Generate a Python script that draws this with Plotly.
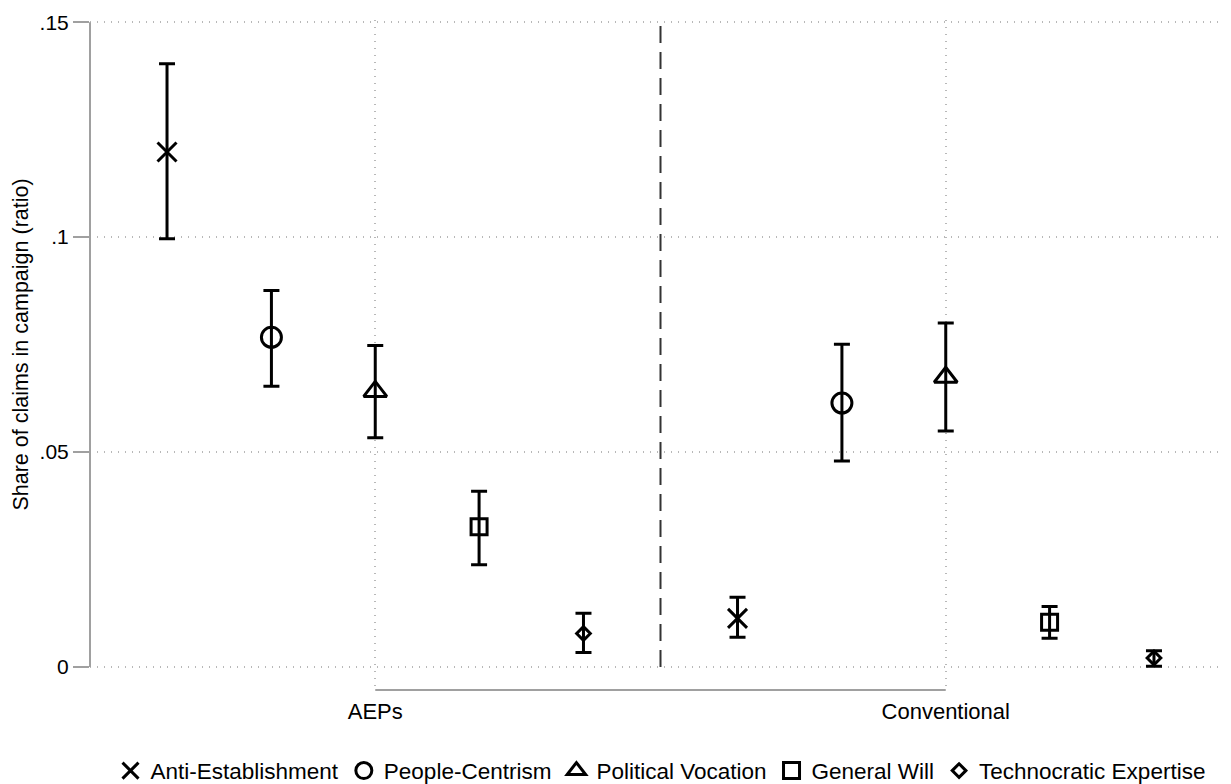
import plotly.graph_objects as go

categories = ["AEPs", "Conventional"]
cat_pos = [1, 2]
series = ["Anti-Establishment", "People-Centrism", "Political Vocation",
          "General Will", "Technocratic Expertise"]
offsets = [-0.365, -0.182, 0.0, 0.182, 0.365]
symbols = ["x-thin-open", "circle-open", "triangle-up-open", "square-open", "diamond-open"]
msizes = [19, 20, 20, 16, 10.5]

est = {
    "Anti-Establishment": [0.1198, 0.0113],
    "People-Centrism": [0.0767, 0.0614],
    "Political Vocation": [0.0641, 0.0674],
    "General Will": [0.0326, 0.0104],
    "Technocratic Expertise": [0.0078, 0.0021],
}
ci_low = {
    "Anti-Establishment": [0.0996, 0.0069],
    "People-Centrism": [0.0653, 0.0479],
    "Political Vocation": [0.0533, 0.0549],
    "General Will": [0.0238, 0.0067],
    "Technocratic Expertise": [0.0034, 0.0002],
}
ci_high = {
    "Anti-Establishment": [0.1403, 0.0162],
    "People-Centrism": [0.0876, 0.0751],
    "Political Vocation": [0.0748, 0.0800],
    "General Will": [0.0409, 0.0141],
    "Technocratic Expertise": [0.0125, 0.0038],
}

y_ticks = [0, 0.05, 0.10, 0.15]
y_ticktext = ["0", ".05", ".1", ".15"]

FONT = "Liberation Sans, Arial, sans-serif"
fig = go.Figure()
for s, off, sym, ms in zip(series, offsets, symbols, msizes):
    xs = [c + off for c in cat_pos]
    ys = est[s]
    plus = [h - y for h, y in zip(ci_high[s], ys)]
    minus = [y - l for l, y in zip(ci_low[s], ys)]
    fig.add_trace(go.Scatter(
        x=xs, y=ys, mode="markers", name=s,
        marker=dict(symbol=sym, size=ms, color="black", line=dict(color="black", width=3)),
        error_y=dict(type="data", symmetric=False, array=plus, arrayminus=minus,
                     color="black", thickness=3, width=8),
    ))

# dashed separator between groups
fig.add_shape(type="line", xref="x", yref="y", x0=1.5, x1=1.5, y0=0, y1=0.15,
              line=dict(color="#333333", width=2, dash="17px,9px"))
# y axis line (only over the tick range)
fig.add_shape(type="line", xref="paper", yref="y", x0=0, x1=0, y0=0, y1=0.15,
              line=dict(color="#a0a0a0", width=2))
# x axis line (only between the categories)
fig.add_shape(type="line", xref="x", yref="paper", x0=1, x1=2, y0=0, y1=0,
              line=dict(color="#a0a0a0", width=2))

fig.add_annotation(text="Share of claims in campaign (ratio)", textangle=-90,
                   xref="paper", yref="y", x=0, y=0.075, xanchor="center", yanchor="middle",
                   xshift=-69, showarrow=False, font=dict(family=FONT, size=21.5, color="black"))

# the page body has an 8px margin, so the figure is 8px smaller and shifted
fig.update_layout(
    width=1223, height=776,
    margin=dict(l=82, r=0, t=12, b=94, autoexpand=False),
    paper_bgcolor="white", plot_bgcolor="white",
    font=dict(family=FONT, size=22, color="black"),
    showlegend=True,
    legend=dict(orientation="h", x=0.5, xanchor="center", yref="container", y=0.0168,
                yanchor="middle", font=dict(family=FONT, size=22.5, color="black"),
                bgcolor="rgba(0,0,0,0)"),
    xaxis=dict(range=[0.5, 2.5], tickvals=cat_pos, ticktext=categories, automargin=False,
               showgrid=True, gridcolor="#b8b8b8", griddash="1px,6px", gridwidth=1.5,
               zeroline=False, showline=False, ticks="outside", ticklen=2,
               tickcolor="rgba(0,0,0,0)", tickfont=dict(size=22, color="black")),
    yaxis=dict(range=[-0.00535, 0.1505], tickvals=y_ticks, ticktext=y_ticktext,
               automargin=False,
               showgrid=True, gridcolor="#b8b8b8", griddash="1px,6px", gridwidth=1.5,
               zeroline=False, showline=False, ticks="outside", ticklen=16, tickwidth=2,
               tickcolor="#a0a0a0", tickfont=dict(size=21, color="black")),
)

fig.write_html("out.html")
